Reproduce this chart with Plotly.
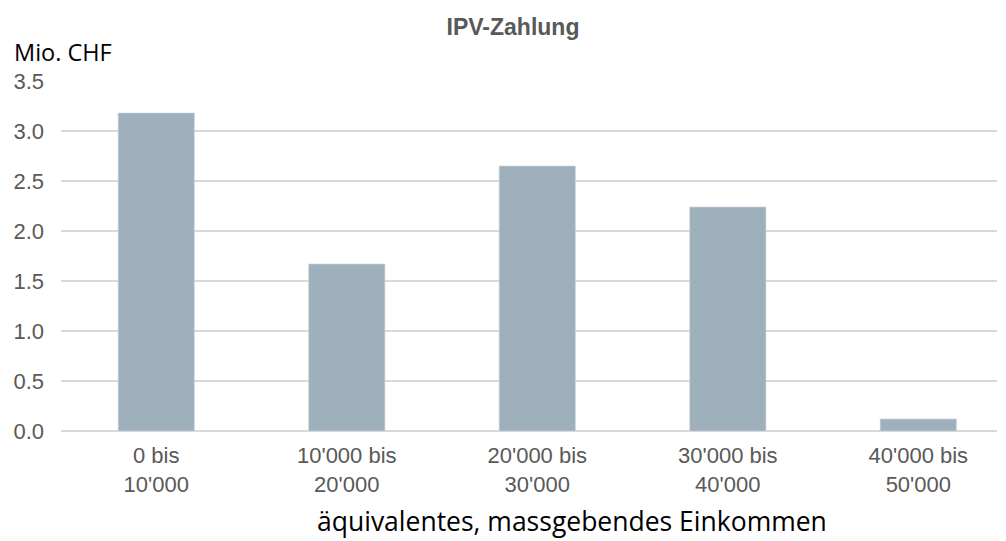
import plotly.graph_objects as go

categories = ["0 bis<br>10'000", "10'000 bis<br>20'000", "20'000 bis<br>30'000", "30'000 bis<br>40'000", "40'000 bis<br>50'000"]
values = [3.18, 1.67, 2.65, 2.24, 0.12]
y_ticks = [0.0, 0.5, 1.0, 1.5, 2.0, 2.5, 3.0, 3.5]

W, H = 1006, 541
OFF = 8  # page body margin offset
L, R, T, B = 61 - OFF, 9 + OFF, 81 - OFF, 110 + OFF
PH = H - T - B
PW = W - L - R

fig = go.Figure(go.Bar(
    x=list(range(len(categories))), y=values,
    marker=dict(color="#9FB0BD", line=dict(color="#C9D4DC", width=0.6)),
    width=0.4, hoverinfo="skip"))

fig.update_layout(
    width=W, height=H, margin=dict(l=L, r=R, t=T, b=B, autoexpand=False),
    paper_bgcolor="white", plot_bgcolor="white", showlegend=False,
    font=dict(family="Arial, Liberation Sans", color="#595959", size=22),
    title=dict(text="<b>IPV-Zahlung</b>", x=(513 - OFF) / W, xanchor="center",
               y=1 - (27 - OFF) / H, yanchor="middle",
               font=dict(size=23, color="#595959", family="Arial, Liberation Sans")),
    xaxis=dict(tickmode="array", tickvals=list(range(len(categories))), ticktext=categories,
               range=[-0.5, 4.413], showgrid=False, zeroline=False, showline=False,
               ticks="", automargin=False, ticklabelstandoff=9,
               tickfont=dict(size=22, color="#595959")),
    yaxis=dict(range=[0, 3.5], tickmode="array", tickvals=y_ticks,
               ticktext=[f"{v:.1f}" for v in y_ticks], showgrid=True, gridcolor="#D9D9D9",
               gridwidth=1.5, zeroline=True, zerolinecolor="#D9D9D9", zerolinewidth=2,
               showline=False, ticks="", ticklabelstandoff=16, automargin=False,
               tickfont=dict(size=22, color="#595959")),
)

fig.add_annotation(text="Mio. CHF", xref="paper", yref="paper", x=(12 - 61) / PW, y=(431 - 52) / PH,
                   xanchor="left", yanchor="middle", showarrow=False,
                   font=dict(size=23.5, color="#000000", family="Open Sans, Noto Sans"))
fig.add_annotation(text="äquivalentes, massgebendes Einkommen", xref="paper", yref="paper",
                   x=(572 - 61) / PW, y=(431 - 521) / PH, xanchor="center", yanchor="middle",
                   showarrow=False, font=dict(size=26.5, color="#000000", family="Open Sans, Noto Sans"))

fig.write_html("out.html")
